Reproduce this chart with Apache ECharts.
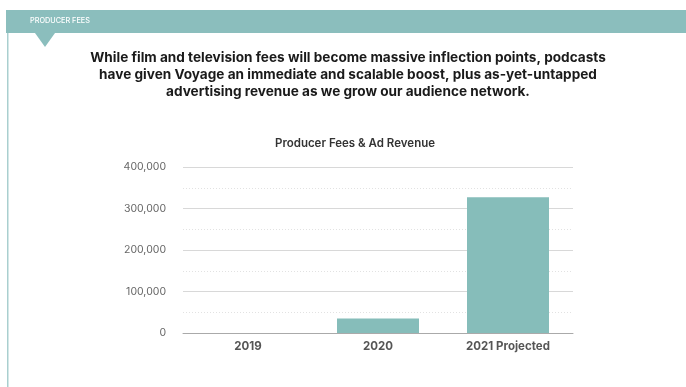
<!DOCTYPE html>
<html>
<head>
<meta charset="utf-8">
<title>Producer Fees</title>
<style>
  * { margin: 0; padding: 0; }
  body { background: #fff; }
</style>
</head>
<body>
<div id="chart" style="width: 686px; height: 387px;"></div>
<script src="https://cdn.jsdelivr.net/npm/echarts@6/dist/echarts.min.js"></script>
<script>
var years = ['2019', '2020', '2021 Projected'];
var fees = [0, 35000, 327000];
var yTicks = [0, 100000, 200000, 300000, 400000];
var headline = [
  'While film and television fees will become massive inflection points, podcasts',
  'have given Voyage an immediate and scalable boost, plus as-yet-untapped',
  'advertising revenue as we grow our audience network.'
];

var teal = '#8bbebd';
var font = 'Inter';

var chart = echarts.init(document.getElementById('chart'));

var option = {
  animation: false,
  textStyle: { fontFamily: font },
  title: {
    text: 'Producer Fees & Ad Revenue',
    left: 350,
    textAlign: 'center',
    top: 133,
    textStyle: { fontSize: 11.5, fontWeight: 600, color: '#333', fontFamily: font }
  },
  graphic: [
    // header band
    { type: 'rect', shape: { x: 6, y: 10, width: 680, height: 23 }, style: { fill: teal } },
    { type: 'polygon', shape: { points: [[35, 33], [55, 33], [45, 47]] }, style: { fill: teal } },
    { type: 'rect', shape: { x: 7, y: 33, width: 1.5, height: 354 }, style: { fill: '#a9cfcf' } },
    { type: 'text', x: 30, y: 21, style: { text: 'PRODUCER FEES', fill: '#fff', font: '500 7.3px ' + font, verticalAlign: 'middle' } },
    { type: 'text', x: 348, y: 58, style: { text: headline[0], fill: '#1a1a1a', font: '700 13.6px ' + font, align: 'center', verticalAlign: 'middle' } },
    { type: 'text', x: 348, y: 75, style: { text: headline[1], fill: '#1a1a1a', font: '700 13.6px ' + font, align: 'center', verticalAlign: 'middle' } },
    { type: 'text', x: 348, y: 92, style: { text: headline[2], fill: '#1a1a1a', font: '700 13.6px ' + font, align: 'center', verticalAlign: 'middle' } }
  ],
  grid: { left: 183, right: 113, top: 167, bottom: 54, containLabel: false },
  xAxis: {
    type: 'category',
    data: years,
    axisTick: { show: false },
    axisLine: { lineStyle: { color: '#aaa', width: 1 } },
    axisLabel: { color: '#555', fontSize: 11.5, fontWeight: 700, margin: 8, fontFamily: font }
  },
  yAxis: {
    type: 'value',
    min: yTicks[0],
    max: yTicks[yTicks.length - 1],
    interval: 100000,
    axisLine: { show: false },
    axisTick: { show: false },
    axisLabel: {
      color: '#666', fontSize: 10.5, margin: 17, fontFamily: font,
      formatter: function (v) { return v.toLocaleString('en-US'); }
    },
    splitLine: { lineStyle: { color: '#d8d8d8', width: 1 } },
    minorTick: { show: false, splitNumber: 2 },
    minorSplitLine: { show: true, lineStyle: { color: '#e2e2e2', type: [1, 2] } }
  },
  series: [{
    type: 'bar',
    data: fees,
    barWidth: 82,
    itemStyle: { color: '#86bdba' }
  }]
};

chart.setOption(option);
</script>
</body>
</html>
